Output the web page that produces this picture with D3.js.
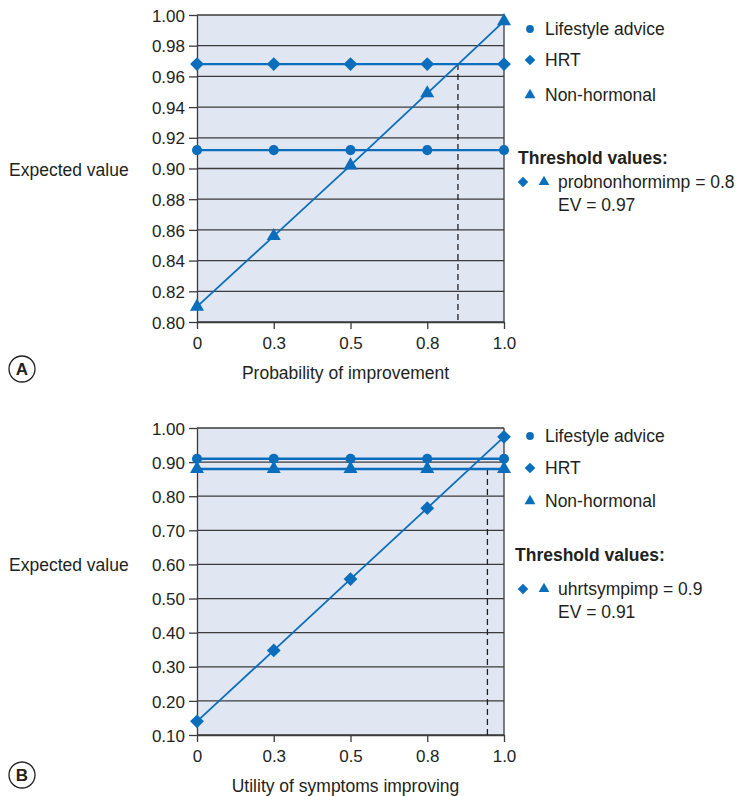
<!DOCTYPE html>
<html>
<head>
<meta charset="utf-8">
<script src="https://cdn.jsdelivr.net/npm/d3@7"></script>
<style>
  body { margin: 0; background: #fff; }
  text { font-family: "Liberation Sans", Arial, sans-serif; fill: #231f20; }
</style>
</head>
<body>
<div id="chart"></div>
<script>
// shared x positions and labels
const xValues = [0, 0.25, 0.5, 0.75, 1];
const xTickLabels = ["0", "0.3", "0.5", "0.8", "1.0"];
const seriesNames = ["Lifestyle advice", "HRT", "Non-hormonal"];

// panel A
const aLifestyle = [0.912, 0.912, 0.912, 0.912, 0.912];
const aHRT = [0.968, 0.968, 0.968, 0.968, 0.968];
const aNonHormonal = [0.81, 0.856, 0.902, 0.949, 0.996];
const aYTicks = [0.80, 0.82, 0.84, 0.86, 0.88, 0.90, 0.92, 0.94, 0.96, 0.98, 1.00];
const aThreshold = [0.85, 0.968];
const aThresholdText = ["probnonhormimp = 0.8", "EV = 0.97"];

// panel B
const bLifestyle = [0.91, 0.91, 0.91, 0.91, 0.91];
const bHRT = [0.14, 0.348, 0.557, 0.765, 0.974];
const bNonHormonal = [0.88, 0.88, 0.88, 0.88, 0.88];
const bYTicks = [0.10, 0.20, 0.30, 0.40, 0.50, 0.60, 0.70, 0.80, 0.90, 1.00];
const bThreshold = [0.946, 0.88];
const bThresholdText = ["uhrtsympimp = 0.9", "EV = 0.91"];

const blue = "#0a6ebd";
const gridColor = "#3b3b3b";
const fs = 17.5;

const svg = d3.select("#chart").append("svg")
  .attr("width", 736).attr("height", 796);

const symbolOf = {
  "Lifestyle advice": { type: d3.symbolCircle, size: 80, rot: 0 },
  "HRT": { type: d3.symbolSquare, size: 95, rot: 45 },
  "Non-hormonal": { type: d3.symbolTriangle, size: 85, rot: 0 }
};

function drawPanel(p) {
  const left = 197, right = 504;
  const x = d3.scaleLinear().domain([0, 1]).range([left, right]);
  const y = d3.scaleLinear().domain(p.yDomain).range([p.bottom, p.top]);
  const g = svg.append("g");

  g.append("rect")
    .attr("x", left).attr("y", p.top)
    .attr("width", right - left).attr("height", p.bottom - p.top)
    .attr("fill", "#e1e6f3");

  // gridlines
  g.selectAll(".grid").data(p.yTicks).join("line")
    .attr("x1", left).attr("x2", right)
    .attr("y1", d => y(d)).attr("y2", d => y(d))
    .attr("stroke", gridColor).attr("stroke-width", 1.3);
  g.append("line")
    .attr("x1", right).attr("x2", right).attr("y1", p.top).attr("y2", p.bottom)
    .attr("stroke", gridColor).attr("stroke-width", 1.3);

  // axes
  const yAxis = g.append("g").attr("transform", `translate(${left},0)`)
    .call(d3.axisLeft(y).tickValues(p.yTicks).tickFormat(d3.format(".2f")).tickSize(8).tickSizeOuter(0));
  const xAxis = g.append("g").attr("transform", `translate(0,${p.bottom})`)
    .call(d3.axisBottom(x).tickValues(xValues).tickFormat((d, i) => xTickLabels[i]).tickSize(7).tickSizeOuter(0));
  [yAxis, xAxis].forEach(a => {
    a.attr("font-size", 17).attr("font-family", "'Liberation Sans', Arial, sans-serif");
    a.select(".domain").attr("stroke", gridColor).attr("stroke-width", 1.3);
    a.selectAll(".tick line").attr("stroke", gridColor).attr("stroke-width", 1.3);
    a.selectAll("text").attr("fill", "#231f20");
  });
  yAxis.selectAll("text").attr("x", -12).attr("dy", "0.36em");
  xAxis.selectAll("text").attr("y", 15).attr("dy", "0.71em");

  // threshold dashed line
  g.append("line")
    .attr("x1", x(p.threshold[0])).attr("x2", x(p.threshold[0]))
    .attr("y1", y(p.threshold[1])).attr("y2", p.bottom)
    .attr("stroke", "#231f20").attr("stroke-width", 1.3)
    .attr("stroke-dasharray", "6,4");

  // series
  const line = d3.line().x((d, i) => x(xValues[i])).y(d => y(d));
  p.series.forEach((s, k) => {
    const slope = s[0] !== s[s.length - 1];
    g.append("path").datum(s).attr("d", line)
      .attr("fill", "none").attr("stroke", blue)
      .attr("stroke-width", slope ? 1.8 : 2.4);
  });
  p.series.forEach((s, k) => {
    const sym = symbolOf[seriesNames[k]];
    g.selectAll(null).data(s).join("path")
      .attr("d", d3.symbol().type(sym.type).size(sym.size))
      .attr("transform", (d, i) => `translate(${x(xValues[i])},${y(d)}) rotate(${sym.rot})`)
      .attr("fill", blue);
  });

  // labels
  g.append("text").attr("x", 9).attr("y", p.yTitleY)
    .attr("font-size", fs).text("Expected value");
  g.append("text").attr("x", (left + right) / 2 - 5).attr("y", p.bottom + 57)
    .attr("text-anchor", "middle").attr("font-size", fs).text(p.xTitle);

  // panel letter
  g.append("circle").attr("cx", 22).attr("cy", p.letterY).attr("r", 13)
    .attr("fill", "none").attr("stroke", "#231f20").attr("stroke-width", 1.3);
  g.append("text").attr("x", 22).attr("y", p.letterY + 6)
    .attr("text-anchor", "middle").attr("font-size", 17).attr("font-weight", "bold")
    .text(p.letter);

  // legend
  const lg = g.append("g");
  seriesNames.forEach((name, k) => {
    const sym = symbolOf[name];
    const ly = p.legendY[k];
    lg.append("path")
      .attr("d", d3.symbol().type(sym.type).size(sym.size * 0.6))
      .attr("transform", `translate(530,${ly}) rotate(${sym.rot})`)
      .attr("fill", blue);
    lg.append("text").attr("x", 545).attr("y", ly + 6)
      .attr("font-size", fs).text(name);
  });
  lg.append("text").attr("x", p.thrX).attr("y", p.thrY + 6)
    .attr("font-size", fs).attr("font-weight", "bold").text("Threshold values:");
  const ry = p.thrY + 24 + p.thrGap;
  lg.append("path")
    .attr("d", d3.symbol().type(symbolOf["HRT"].type).size(55))
    .attr("transform", `translate(523,${ry}) rotate(45)`).attr("fill", blue);
  lg.append("path")
    .attr("d", d3.symbol().type(symbolOf["Non-hormonal"].type).size(50))
    .attr("transform", `translate(544,${ry})`).attr("fill", blue);
  lg.append("text").attr("x", 558).attr("y", ry + 6).attr("font-size", fs).text(p.thrText[0]);
  lg.append("text").attr("x", 558).attr("y", ry + 29).attr("font-size", fs).text(p.thrText[1]);
}

drawPanel({
  top: 15, bottom: 322, yDomain: [0.80, 1.00], yTicks: aYTicks,
  series: [aLifestyle, aHRT, aNonHormonal], threshold: aThreshold,
  xTitle: "Probability of improvement", letter: "A", letterY: 369, yTitleY: 176,
  legendY: [29, 60, 95], thrX: 518, thrY: 158, thrGap: 0, thrText: aThresholdText
});

drawPanel({
  top: 428, bottom: 735, yDomain: [0.10, 1.00], yTicks: bYTicks,
  series: [bLifestyle, bHRT, bNonHormonal], threshold: bThreshold,
  xTitle: "Utility of symptoms improving", letter: "B", letterY: 775, yTitleY: 571,
  legendY: [436, 468, 501], thrX: 515, thrY: 555, thrGap: 10, thrText: bThresholdText
});
</script>
</body>
</html>
